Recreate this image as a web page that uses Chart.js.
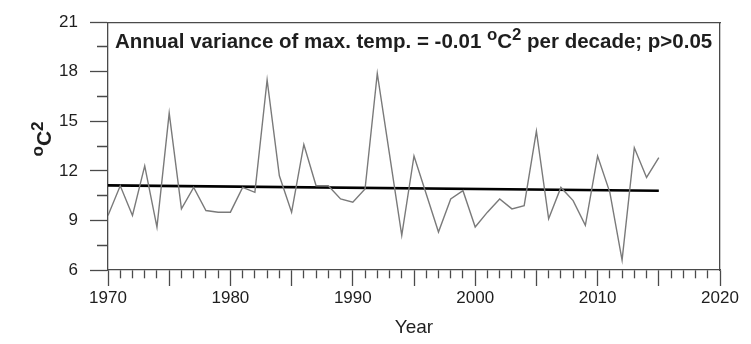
<!DOCTYPE html>
<html>
<head>
<meta charset="utf-8">
<script src="https://cdn.jsdelivr.net/npm/chart.js@4.4.0/dist/chart.umd.min.js"></script>
<style>
  html, body { margin: 0; padding: 0; background: #fff; }
</style>
</head>
<body>
<canvas id="chart" width="751" height="344"></canvas>
<script>
// annual variance of max. temperature, oC^2
const years = [
  1970, 1971, 1972, 1973, 1974, 1975, 1976, 1977, 1978, 1979,
  1980, 1981, 1982, 1983, 1984, 1985, 1986, 1987, 1988, 1989,
  1990, 1991, 1992, 1993, 1994, 1995, 1996, 1997, 1998, 1999,
  2000, 2001, 2002, 2003, 2004, 2005, 2006, 2007, 2008, 2009,
  2010, 2011, 2012, 2013, 2014, 2015
];
const variance = [
  9.3, 11.1, 9.3, 12.3, 8.6, 15.5, 9.7, 11.0, 9.6, 9.5,
  9.5, 11.0, 10.7, 17.5, 11.7, 9.5, 13.6, 11.1, 11.1, 10.3,
  10.1, 10.9, 17.9, 13.0, 8.1, 12.9, 10.6, 8.3, 10.3, 10.8,
  8.6, 9.5, 10.3, 9.7, 9.9, 14.4, 9.1, 11.0, 10.2, 8.7,
  12.9, 10.7, 6.6, 13.4, 11.6, 12.8
];

// linear trend
const trendYears = [1970, 2015];
const trendValues = [11.12, 10.80];

const xRange = [1970, 2020];
const yRange = [6, 21];
const xLabelEvery = 10;
const yLabelEvery = 3;

const AXIS = "#4a4a4a";
const TEXT = "#1e1e1e";
const FONT = "Arial, 'Liberation Sans', sans-serif";

// text with raised pieces: [text, superscript?]
function drawRuns(ctx, runs, size) {
  let w = 0;
  runs.forEach(([t, sup]) => {
    ctx.font = `bold ${sup ? size * 0.82 : size}px ${FONT}`;
    w += ctx.measureText(t).width;
  });
  return {
    width: w,
    draw(x, y) {
      let cx = x;
      runs.forEach(([t, sup]) => {
        ctx.font = `bold ${sup ? size * 0.82 : size}px ${FONT}`;
        ctx.fillText(t, cx, sup ? y - size * 0.38 : y);
        cx += ctx.measureText(t).width;
      });
    }
  };
}

const textosPlugin = {
  id: "textos",
  afterDraw(chart) {
    const ctx = chart.ctx;
    const area = chart.chartArea;
    ctx.save();
    ctx.fillStyle = TEXT;
    ctx.textBaseline = "alphabetic";
    ctx.textAlign = "left";

    const nota = drawRuns(ctx, [
      ["Annual variance of max. temp. = -0.01 ", false],
      ["o", true],
      ["C", false],
      ["2", true],
      [" per decade; p>0.05", false]
    ], 20.5);
    nota.draw(area.left + 7, area.top + 26);

    const titulo = drawRuns(ctx, [["o", true], ["C", false], ["2", true]], 21);
    ctx.translate(51, 139);
    ctx.rotate(-Math.PI / 2);
    titulo.draw(-titulo.width / 2, 0);
    ctx.restore();
  }
};

const frameAxis = (position, min, max, size) => ({
  type: "linear",
  position,
  min,
  max,
  grid: { drawOnChartArea: false, drawTicks: false },
  border: { display: true, color: AXIS, width: 1.3 },
  ticks: { display: false },
  afterFit(s) {
    if (position === "top") s.height = size; else s.width = size;
  }
});

new Chart(document.getElementById("chart"), {
  type: "line",
  data: {
    datasets: [
      {
        data: years.map((y, i) => ({ x: y, y: variance[i] })),
        borderColor: "#7a7a7a",
        borderWidth: 1.4,
        pointRadius: 0,
        tension: 0
      },
      {
        data: trendYears.map((y, i) => ({ x: y, y: trendValues[i] })),
        borderColor: "#000",
        borderWidth: 2.6,
        pointRadius: 0
      }
    ]
  },
  options: {
    responsive: false,
    animation: false,
    layout: { padding: 0 },
    plugins: {
      legend: { display: false },
      tooltip: { enabled: false }
    },
    scales: {
      x: {
        type: "linear",
        min: xRange[0],
        max: xRange[1],
        grid: {
          drawOnChartArea: false,
          tickLength: 16,
          tickColor: AXIS,
          tickWidth: 1.3,
          // short marks every year, long every 5 years
          tickBorderDash: c => (c.tick && c.tick.value % 5 === 0 ? [] : [8, 100])
        },
        border: { color: AXIS, width: 1.3 },
        ticks: {
          stepSize: 1,
          autoSkip: false,
          maxRotation: 0,
          padding: 2,
          color: TEXT,
          font: { family: FONT, size: 17 },
          callback: v => (v % xLabelEvery === 0 ? String(v) : "")
        },
        title: {
          display: true,
          text: "Year",
          color: TEXT,
          font: { family: FONT, size: 19 },
          padding: { top: 0, bottom: 5 }
        },
        afterFit(s) { s.height = 74; }
      },
      y: {
        type: "linear",
        min: yRange[0],
        max: yRange[1],
        grid: {
          drawOnChartArea: false,
          tickLength: 18,
          tickColor: AXIS,
          tickWidth: 1.3,
          // minor marks start 7px out from the label side, so they touch the axis
          tickBorderDash: c => (c.tick && c.tick.value % yLabelEvery === 0 ? [] : [0, 7, 11, 100])
        },
        border: { color: AXIS, width: 1.3 },
        ticks: {
          stepSize: 1.5,
          autoSkip: false,
          padding: 12,
          color: TEXT,
          font: { family: FONT, size: 17 },
          callback: v => (v % yLabelEvery === 0 ? String(v) : "")
        },
        afterFit(s) { s.width = 108; }
      },
      xTop: frameAxis("top", xRange[0], xRange[1], 13),
      yRight: frameAxis("right", yRange[0], yRange[1], 31)
    }
  },
  plugins: [textosPlugin]
});
</script>
</body>
</html>
